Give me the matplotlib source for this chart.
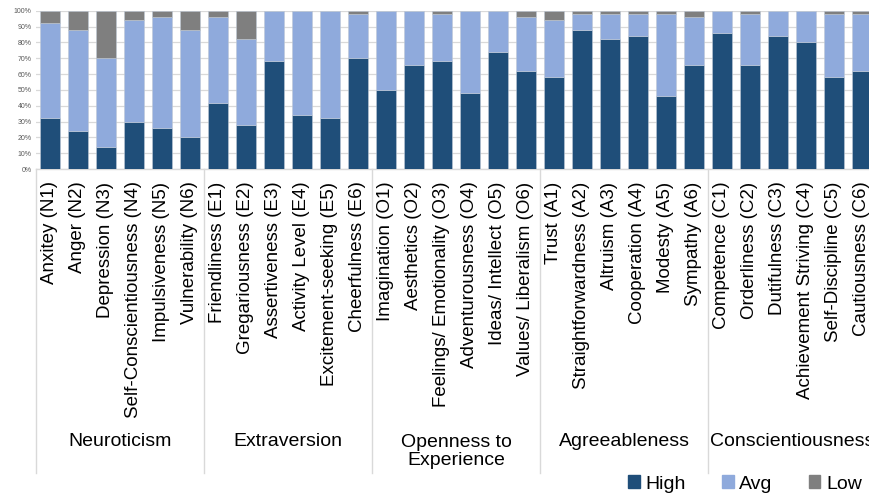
import matplotlib
matplotlib.use('Agg')
from matplotlib import pyplot as plt
from matplotlib.patches import Patch
from matplotlib.transforms import blended_transform_factory
import numpy as np

plt.rcParams['font.family'] = ['Liberation Sans', 'DejaVu Sans']

facets = ['Anxitey (N1)', 'Anger (N2)', 'Depression (N3)', 'Self-Conscientiousness (N4)',
          'Impulsiveness (N5)', 'Vulnerability (N6)',
          'Friendliness (E1)', 'Gregariousness (E2)', 'Assertiveness (E3)',
          'Activity Level (E4)', 'Excitement-seeking (E5)', 'Cheerfulness (E6)',
          'Imagination (O1)', 'Aesthetics (O2)', 'Feelings/ Emotionality (O3)',
          'Adventurousness (O4)', 'Ideas/ Intellect (O5)', 'Values/ Liberalism (O6)',
          'Trust (A1)', 'Straightforwardness (A2)', 'Altruism (A3)', 'Cooperation (A4)',
          'Modesty (A5)', 'Sympathy (A6)',
          'Competence (C1)', 'Orderliness (C2)', 'Dutifulness (C3)',
          'Achievement Striving (C4)', 'Self-Discipline (C5)', 'Cautiousness (C6)']
groups = ['Neuroticism', 'Extraversion', 'Openness to\nExperience',
          'Agreeableness', 'Conscientiousness']

high = [32, 24, 14, 30, 26, 20,
        42, 28, 68, 34, 32, 70,
        50, 66, 68, 48, 74, 62,
        58, 88, 82, 84, 46, 66,
        86, 66, 84, 80, 58, 62]
avg = [60, 64, 56, 64, 70, 68,
       54, 54, 32, 66, 68, 28,
       50, 34, 30, 52, 26, 34,
       36, 10, 16, 14, 52, 30,
       14, 32, 16, 20, 40, 36]
low = [8, 12, 30, 6, 4, 12,
       4, 18, 0, 0, 0, 2,
       0, 0, 2, 0, 0, 4,
       6, 2, 2, 2, 2, 4,
       0, 2, 0, 0, 2, 2]

high = np.array(high) / 100
avg = np.array(avg) / 100
low = np.array(low) / 100

c_high = '#1F4E79'
c_avg = '#8FAADC'
c_low = '#7F7F7F'

W, H = 869, 497
fig = plt.figure(figsize=(W / 100, H / 100), dpi=100)
ax = fig.add_axes([36 / W, 1 - 169 / H, 840 / W, (169 - 10.7) / H])

x = np.arange(len(facets))
bw = 0.71
ax.bar(x, high, bw, color=c_high, edgecolor='#BFC9D6', linewidth=0.4, zorder=3)
ax.bar(x, avg, bw, bottom=high, color=c_avg, edgecolor='#BFC9D6', linewidth=0.4, zorder=3)
ax.bar(x, low, bw, bottom=high + avg, color=c_low, edgecolor='#BFC9D6', linewidth=0.4, zorder=3)

ax.set_xlim(-0.5, len(facets) - 0.5)
ax.set_ylim(0, 1)
yt = np.arange(0, 1.01, 0.1)
ax.set_yticks(yt)
ax.set_yticklabels([f'{int(round(v * 100))}%' for v in yt])
ax.tick_params(axis='y', length=0, labelsize=5, labelcolor='#595959', pad=3)
ax.set_xticks(x)
ax.set_xticklabels(facets, rotation=90, fontsize=13.5)
ax.tick_params(axis='x', length=0, pad=9)
ax.grid(axis='y', color='#D9D9D9', linewidth=0.9, zorder=0)
for s in ax.spines.values():
    s.set_visible(False)

# group separators and group names below the facet labels
trans = blended_transform_factory(ax.transData, ax.transAxes)
ph = 169 - 10.7
depth = (473 - 169) / ph
for b in range(0, len(facets) + 1, 6):
    ax.plot([b - 0.5, b - 0.5], [0, -depth], color='#D9D9D9', linewidth=1,
            transform=trans, clip_on=False)
ax.plot([-0.5, len(facets) - 0.5], [0, 0], color='#D9D9D9', linewidth=1,
        transform=trans, clip_on=False)

for i, g in enumerate(groups):
    yc = 451.5 if '\n' in g else 441
    ax.text(i * 6 + 2.5, -(yc - 169) / ph, g, transform=trans, ha='center',
            va='center', fontsize=14, linespacing=1.15)

handles = [Patch(color=c_high, label='High'), Patch(color=c_avg, label='Avg'),
           Patch(color=c_low, label='Low')]
fig.legend(handles=handles, loc='center left', bbox_to_anchor=(628 / W, 1 - 484 / H),
           ncol=3, frameon=False, fontsize=14, handlelength=0.6, handleheight=0.6,
           handletextpad=0.3, columnspacing=1.85, borderpad=0, borderaxespad=0)

fig.savefig('out.png', dpi=100)
